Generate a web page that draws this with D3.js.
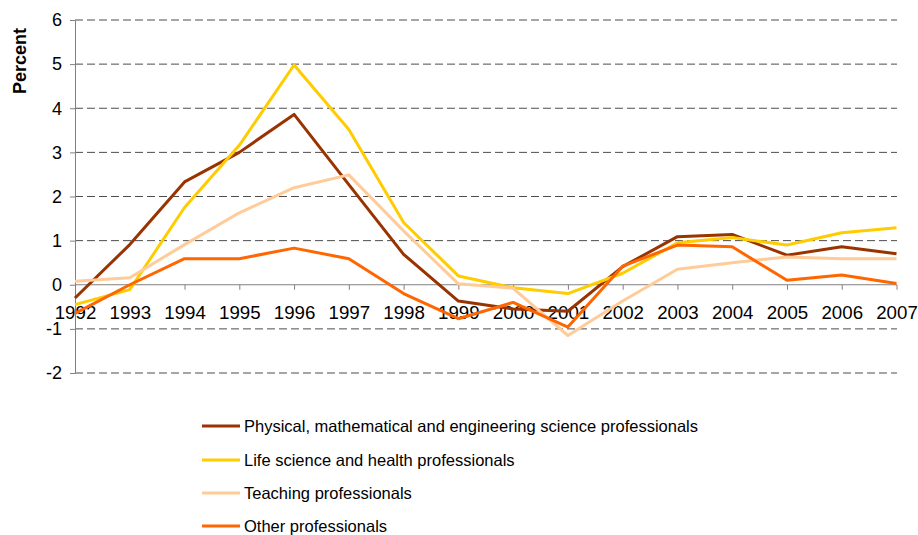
<!DOCTYPE html>
<html><head><meta charset="utf-8">
<script src="https://cdn.jsdelivr.net/npm/d3@7"></script>
<style>body{margin:0;background:#fff;}svg{display:block;font-family:"Liberation Sans",Arial,sans-serif;}</style>
</head><body>
<svg id="c" width="918" height="535"></svg>
<script>
const years = ["1992","1993","1994","1995","1996","1997","1998","1999","2000","2001","2002","2003","2004","2005","2006","2007"];
const physical = [-0.3,0.91,2.33,3.0,3.86,2.27,0.69,-0.37,-0.55,-0.6,0.41,1.09,1.14,0.67,0.86,0.70];
const life = [-0.45,-0.11,1.75,3.16,4.98,3.52,1.41,0.2,-0.07,-0.2,0.26,0.95,1.07,0.90,1.18,1.29];
const teaching = [0.08,0.16,0.91,1.63,2.2,2.49,1.22,0.02,-0.08,-1.15,-0.37,0.35,0.5,0.63,0.59,0.59];
const other = [-0.65,0.0,0.59,0.59,0.83,0.59,-0.2,-0.77,-0.4,-0.96,0.42,0.9,0.86,0.1,0.22,0.03];
const seriesNames = ["Physical, mathematical and engineering science professionals","Life science and health professionals","Teaching professionals","Other professionals"];
const seriesColors = ["#993300","#FFCC00","#FFCC99","#FF6600"];
const yTicks = [-2,-1,0,1,2,3,4,5,6];

const series = [physical, life, teaching, other];
const svg = d3.select("#c");
const x = d3.scalePoint().domain(years).range([75, 896.5]);
const y = d3.scaleLinear().domain([-2, 6]).range([373, 20]);

// gridlines
svg.append("g").selectAll("line").data(yTicks.filter(d => d !== 0)).join("line")
  .attr("x1", 75).attr("x2", 897).attr("y1", d => y(d)).attr("y2", d => y(d))
  .attr("stroke", "#4d4d4d").attr("stroke-width", 1).attr("stroke-dasharray", "8,4");

// y axis
const yAxis = svg.append("g").attr("transform", "translate(75,0)")
  .call(d3.axisLeft(y).tickValues(yTicks).tickSize(5).tickPadding(8).tickFormat(d => d < 0 ? "-" + Math.abs(d) : String(d)));
yAxis.attr("font-size", null).attr("font-family", null);
yAxis.select(".domain").attr("stroke", "#808080");
yAxis.selectAll(".tick line").attr("stroke", "#808080");
yAxis.selectAll("text").style("font-size", "18px").attr("fill", "#000");

// x axis at zero
const xAxis = svg.append("g").attr("transform", `translate(0,${y(0)})`)
  .call(d3.axisBottom(x).tickSize(5).tickSizeOuter(0).tickPadding(16));
xAxis.attr("font-size", null).attr("font-family", null);
xAxis.select(".domain").attr("stroke", "#808080").attr("d", `M75,0H897`);
xAxis.selectAll(".tick line").attr("stroke", "#808080");
xAxis.selectAll("text").style("font-size", "18.7px").attr("fill", "#000");

// y label
svg.append("text").attr("transform", "translate(20,61) rotate(-90)")
  .attr("text-anchor", "middle").attr("dy", "0.35em").attr("font-weight", "bold").style("font-size", "18px")
  .text("Percent");

// lines
const line = d3.line().x((d, i) => x(years[i])).y(d => y(d));
svg.append("g").selectAll("path").data(series).join("path")
  .attr("d", d => line(d)).attr("fill", "none")
  .attr("stroke", (d, i) => seriesColors[i]).attr("stroke-width", 3)
  .attr("stroke-linejoin", "round");

// legend
const lg = svg.append("g");
const rows = [426, 460, 493, 526];
seriesNames.forEach((n, i) => {
  lg.append("line").attr("x1", 202).attr("x2", 240).attr("y1", rows[i]).attr("y2", rows[i])
    .attr("stroke", seriesColors[i]).attr("stroke-width", 3);
  lg.append("text").attr("x", 244).attr("y", rows[i]).attr("dy", "0.35em")
    .style("font-size", "16.5px").text(n);
});
</script>
</body></html>
